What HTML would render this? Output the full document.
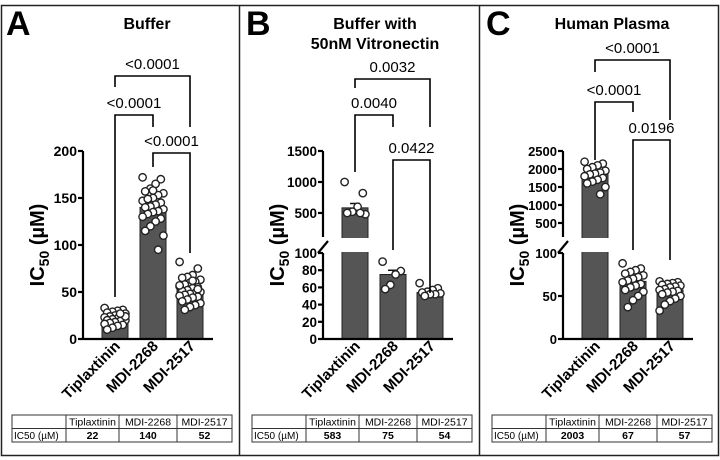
<!DOCTYPE html>
<html><head><meta charset="utf-8"><style>
html,body{margin:0;padding:0;background:#fff}
svg{display:block;font-family:"Liberation Sans",Arial,sans-serif}
</style></head><body>
<svg id="fig" width="720" height="460" viewBox="0 0 720 460" xmlns="http://www.w3.org/2000/svg">
<rect x="1.5" y="5.5" width="717" height="450" fill="none" stroke="#222" stroke-width="1.5"/>
<line x1="239.5" y1="5.5" x2="239.5" y2="455.5" stroke="#222" stroke-width="1.5"/>
<line x1="479.5" y1="5.5" x2="479.5" y2="455.5" stroke="#222" stroke-width="1.5"/>
</svg>
<script>
const categories = ["Tiplaxtinin","MDI-2268","MDI-2517"];
// Panel A
const meansA = [22,140,52];
const semA = [1.5,3.5,2.5];
const tableA = ["22","140","52"];
const ticksA = [0,50,100,150,200];
const ptsA = [
 [33,31,30,29,28,27,26,25,24,23,22,22,21,20,20,19,18,17,16,15,14,12,10,24,27],
 [172,170,165,160,157,155,153,150,148,147,145,143,141,140,138,136,135,133,130,128,125,120,115,110,95,158,149],
 [82,75,68,66,65,63,61,60,58,56,55,54,52,51,50,49,48,47,46,45,44,42,40,38,36,34,31,57,53,62]
];
const pA = ["<0.0001","<0.0001","<0.0001"];
// Panel B
const meansB = [583,75,54];
const semB = [70,5,2];
const tableB = ["583","75","54"];
const ticksBLow = [0,20,40,60,80,100];
const ticksBHigh = [500,1000,1500];
const ptsB = [
 [1000,820,600,520,500,480,500],
 [90,79,75,63,58],
 [65,59,57,55,54,53,52,52,50]
];
const pB = ["0.0032","0.0040","0.0422"];
// Panel C
const meansC = [1850,67,57];
const semC = [60,3.5,2.5];
const tableC = ["2003","67","57"];
const ticksCLow = [0,50,100];
const ticksCHigh = [500,1000,1500,2000,2500];
const ptsC = [
 [2200,2150,2100,2050,2000,1950,1900,1870,1850,1800,1750,1700,1650,1600,1500,1300],
 [88,82,80,78,76,74,72,70,68,66,64,62,60,57,55,50,45,37],
 [67,66,65,64,63,62,61,60,58,57,56,55,54,52,50,47,44,40,33]
];
const pC = ["<0.0001","<0.0001","0.0196"];

const NS="http://www.w3.org/2000/svg";
const svg=document.getElementById('fig');
function mk(tag,attrs,parent){const e=document.createElementNS(NS,tag);for(const k in attrs)e.setAttribute(k,attrs[k]);(parent||svg).appendChild(e);return e;}

function panel(cfg){
 const g=mk('g',{});
 
 
 const ax=cfg.axX, y0=339;
 const ys=v=>{
  if(!cfg.broken) return y0-(v/cfg.max)*(y0-151);
  if(v<=cfg.lowMax) return y0-(v/cfg.lowMax)*(y0-253);
  return 151+(cfg.highMax-v)*(cfg.highSlope);
 };
 const L=mk('text',{x:cfg.ox+6,y:35,'font-size':34,'font-weight':'bold',fill:'#000'},g);
 L.textContent=cfg.id.toUpperCase();
 
 
 cfg.title.forEach((t,i)=>{
  const T=mk('text',{x:cfg.titleX,y:29+i*20,'font-size':16,'font-weight':'bold','text-anchor':'middle',fill:'#000'},g);
  T.textContent=t;
  
  
 });
 const bx=[ax+32,ax+70,ax+107];
 cfg.means.forEach((m,i)=>{
  const top=ys(m);
  const r=mk('rect',{x:bx[i]-13,y:top,width:26,height:y0-top,fill:'#555',stroke:'#222','stroke-width':1},g);
  
  
  const et=ys(m+cfg.sem[i]);
  const eb=mk('path',{d:`M${bx[i]},${top}V${et}M${bx[i]-5},${et}H${bx[i]+5}`,stroke:'#111','stroke-width':1.5,fill:'none'},g);
  
  
 });
 if(cfg.broken){
  const gap=mk('rect',{x:ax+1,y:238,width:130,height:14,fill:'#fff'},g);
  
  
 }
 cfg.pts.forEach((arr,i)=>{
  arr.forEach((v,j)=>{
   const off=((j*7)%9-4)*2.6;
   const c=mk('circle',{cx:bx[i]+off,cy:ys(v),r:3.7,fill:'#fff',stroke:'#222','stroke-width':1.4},g);
   
   
  });
 });
 const axis=mk('g',{stroke:'#000','stroke-width':2.2,fill:'none'},g);
 
 
 if(cfg.broken){
  mk('line',{x1:ax,y1:y0,x2:ax,y2:253},axis);
  mk('line',{x1:ax,y1:237,x2:ax,y2:151},axis);
  mk('line',{x1:ax-5,y1:253,x2:ax+5,y2:241},axis);
 } else mk('line',{x1:ax,y1:y0,x2:ax,y2:151},axis);
 const xa=mk('line',{x1:ax,y1:y0,x2:ax+130,y2:y0,stroke:'#000','stroke-width':2.2},g);
 
 
 cfg.ticks.forEach(t=>{
  const y=ys(t);
  mk('line',{x1:ax-5,y1:y,x2:ax,y2:y},axis);
  const tt=mk('text',{x:ax-6,y:y+5,'font-size':cfg.tickFs,'font-weight':'bold','text-anchor':'end',fill:'#000',stroke:'none'},g);
  tt.textContent=t;
  
  
 });
 const yt=mk('text',{transform:`translate(${cfg.ox+44},245) rotate(-90)`,'font-size':20,'font-weight':'bold','text-anchor':'middle',fill:'#000'},g);
 yt.innerHTML='IC<tspan font-size="14" dy="5">50</tspan><tspan dy="-5"> (µM)</tspan>';
 
 
 categories.forEach((c,i)=>{
  const t=mk('text',{transform:`translate(${bx[i]+6},347) rotate(-45)`,'font-size':15,'font-weight':'bold','text-anchor':'end',fill:'#000'},g);
  t.textContent=c;
  
  
 });
 const bs=mk('g',{stroke:'#000','stroke-width':1.6,fill:'none'},g);
 
 
 cfg.br.forEach((b,k)=>{
  const x1=bx[b.a],x2=bx[b.b];
  mk('path',{d:`M${x1},${b.l}V${b.y}H${x2}V${b.r}`},bs);
  const pt=mk('text',{x:(x1+x2)/2,y:b.y-7,'font-size':15,'text-anchor':'middle',fill:'#000',stroke:'none'},g);
  pt.textContent=cfg.p[k];
  
  
 });
 const tg=mk('g',{},g);
 
 
 const cx=[cfg.ox+12,cfg.ox+66,cfg.ox+119,cfg.ox+177,cfg.ox+232];
 mk('rect',{x:cx[0],y:415,width:cx[4]-cx[0],height:27,fill:'none',stroke:'#333','stroke-width':1},tg);
 mk('line',{x1:cx[0],y1:428.5,x2:cx[4],y2:428.5,stroke:'#333'},tg);
 for(let i=1;i<4;i++) mk('line',{x1:cx[i],y1:415,x2:cx[i],y2:442,stroke:'#333'},tg);
 categories.forEach((c,i)=>{
  const t=mk('text',{x:(cx[i+1]+cx[i+2])/2,y:425.5,'font-size':10.5,'text-anchor':'middle',fill:'#000'},tg);
  t.textContent=c;
  
  
  const v=mk('text',{x:(cx[i+1]+cx[i+2])/2,y:439,'font-size':10.5,'font-weight':'bold','text-anchor':'middle',fill:'#000'},tg);
  v.textContent=cfg.table[i];
  
  
 });
 const rl=mk('text',{x:cx[0]+2,y:439,'font-size':10,fill:'#000'},tg);
 rl.textContent='IC50 (µM)';
 
 
}

panel({id:'a',ox:0,axX:83,title:['Buffer'],titleX:147,broken:false,max:200,ticks:ticksA,tickFs:14,
 means:meansA,sem:semA,pts:ptsA,table:tableA,p:pA,
 br:[{a:0,b:2,y:76,l:87,r:127},{a:0,b:1,y:115,l:297,r:127},{a:1,b:2,y:153,l:167,r:253}]});
panel({id:'b',ox:240,axX:323,title:['Buffer with','50nM Vitronectin'],titleX:375,broken:true,lowMax:100,highMax:1500,highSlope:0.062,
 ticks:ticksBLow.concat(ticksBHigh),tickFs:13.5,means:meansB,sem:semB,pts:ptsB,table:tableB,p:pB,
 br:[{a:0,b:2,y:79,l:88,r:127},{a:0,b:1,y:115,l:172,r:127},{a:1,b:2,y:160,l:250,r:293}]});
panel({id:'c',ox:480,axX:563,title:['Human Plasma'],titleX:612,broken:true,lowMax:100,highMax:2500,highSlope:0.036,
 ticks:ticksCLow.concat(ticksCHigh),tickFs:13,means:meansC,sem:semC,pts:ptsC,table:tableC,p:pC,
 br:[{a:0,b:2,y:60,l:72,r:120},{a:0,b:1,y:102,l:160,r:112},{a:1,b:2,y:140,l:250,r:260}]});
</script>
</body></html>
